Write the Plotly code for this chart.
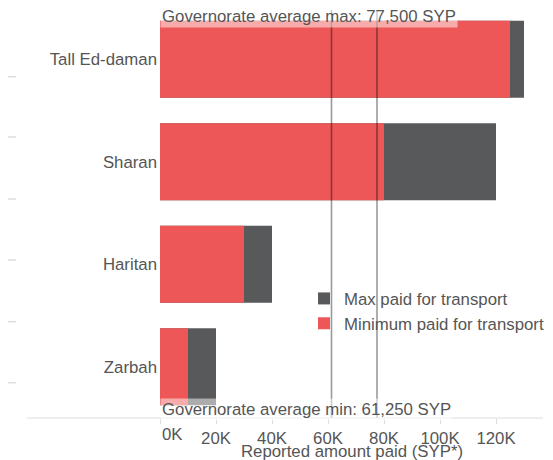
import plotly.graph_objects as go

# data, top to bottom
districts = ["Tall Ed-daman", "Sharan", "Haritan", "Zarbah"]
min_paid = [125000, 80000, 30000, 10000]
max_paid = [130000, 120000, 40000, 20000]
avg_min = 61250
avg_max = 77500
tick_vals = [0, 20000, 40000, 60000, 80000, 100000, 120000]
tick_text = ["", "20K", "40K", "60K", "80K", "100K", "120K"]
x_title = "Reported amount paid (SYP*)"

RED = "#ee5757"
GREY = "#58595b"
TXT = "#555555"
FONT = "Liberation Sans, Arial, sans-serif"
FS = 16.8

# the page body adds an 8px margin, so the figure is 8px smaller than the window
OFF = 8
W, H = 545, 452
L, R, T, B = 152, 10, 0, 42
PW, PH = W - L - R, H - T - B


def px_x(x):
    # screen pixel -> paper x
    return (x - OFF - L) / PW


def px_y(y):
    # screen pixel -> paper y
    return (H - B - (y - OFF)) / PH


fig = go.Figure()

fig.add_trace(go.Bar(
    y=districts, x=max_paid, orientation="h",
    name="Max paid for transport", marker=dict(color=GREY, line=dict(width=0)),
))
fig.add_trace(go.Bar(
    y=districts, x=min_paid, orientation="h",
    name="Minimum paid for transport", marker=dict(color=RED, line=dict(width=0)),
))

shapes = []
# governorate average lines
for v in (avg_min, avg_max):
    shapes.append(dict(type="line", xref="x", yref="paper", x0=v, x1=v,
                       y0=0, y1=px_y(10), layer="above",
                       line=dict(color="rgba(0,0,0,0.4)", width=1.6)))
# bottom axis line running to the left edge of the labels
shapes.append(dict(type="line", xref="paper", yref="paper", x0=px_x(27), x1=1,
                   y0=0, y1=0, line=dict(color="#dddddd", width=1)))
# stubs of the neighbouring chart on the far left
for y in (76.7, 137, 199, 260, 321.7, 382.7):
    shapes.append(dict(type="line", xref="paper", yref="paper", x0=px_x(8), x1=px_x(16),
                       y0=px_y(y), y1=px_y(y), line=dict(color="#dddddd", width=1.5)))

annotations = [
    dict(text=f"Governorate average max: {avg_max:,} SYP", x=0, xref="x", y=px_y(5), yref="paper",
         xanchor="left", yanchor="top", showarrow=False, bgcolor="rgba(255,255,255,0.5)",
         borderpad=1, font=dict(family=FONT, size=FS, color=TXT)),
    dict(text=f"Governorate average min: {avg_min:,} SYP", x=0, xref="x", y=px_y(421), yref="paper",
         xanchor="left", yanchor="bottom", showarrow=False, bgcolor="rgba(255,255,255,0.5)",
         borderpad=1, font=dict(family=FONT, size=FS, color=TXT)),
    dict(text="0K", x=0, xref="x", y=px_y(423), yref="paper", xanchor="left", yanchor="top",
         showarrow=False, font=dict(family=FONT, size=FS, color=TXT)),
    # axis title, placed by hand so it sits just under the tick labels
    dict(text=x_title, x=0.5, xref="paper", y=px_y(440), yref="paper", xanchor="center",
         yanchor="top", showarrow=False, font=dict(family=FONT, size=FS, color=TXT)),
]

fig.update_layout(
    width=W, height=H,
    margin=dict(l=L, r=R, t=T, b=B, autoexpand=False),
    paper_bgcolor="white", plot_bgcolor="white",
    barmode="overlay", bargap=0.25,
    font=dict(family=FONT, size=FS, color=TXT),
    showlegend=True,
    legend=dict(x=px_x(304), y=px_y(281), xanchor="left", yanchor="top",
                bgcolor="rgba(0,0,0,0)", font=dict(family=FONT, size=FS, color=TXT),
                itemwidth=30, tracegroupgap=0),
    shapes=shapes,
    annotations=annotations,
    xaxis=dict(range=[0, PW / 2.8 * 1000], tickvals=tick_vals, ticktext=tick_text,
               tickfont=dict(family=FONT, size=FS, color=TXT),
               showgrid=False, zeroline=False, showline=False,
               ticks="outside", ticklen=5, tickcolor="#dddddd",
               automargin=False, fixedrange=True),
    yaxis=dict(autorange="reversed", showgrid=False, zeroline=False, showline=False,
               tickfont=dict(family=FONT, size=FS, color=TXT),
               ticks="", ticklabelstandoff=2, automargin=False, fixedrange=True),
)

fig.write_html("out.html")
